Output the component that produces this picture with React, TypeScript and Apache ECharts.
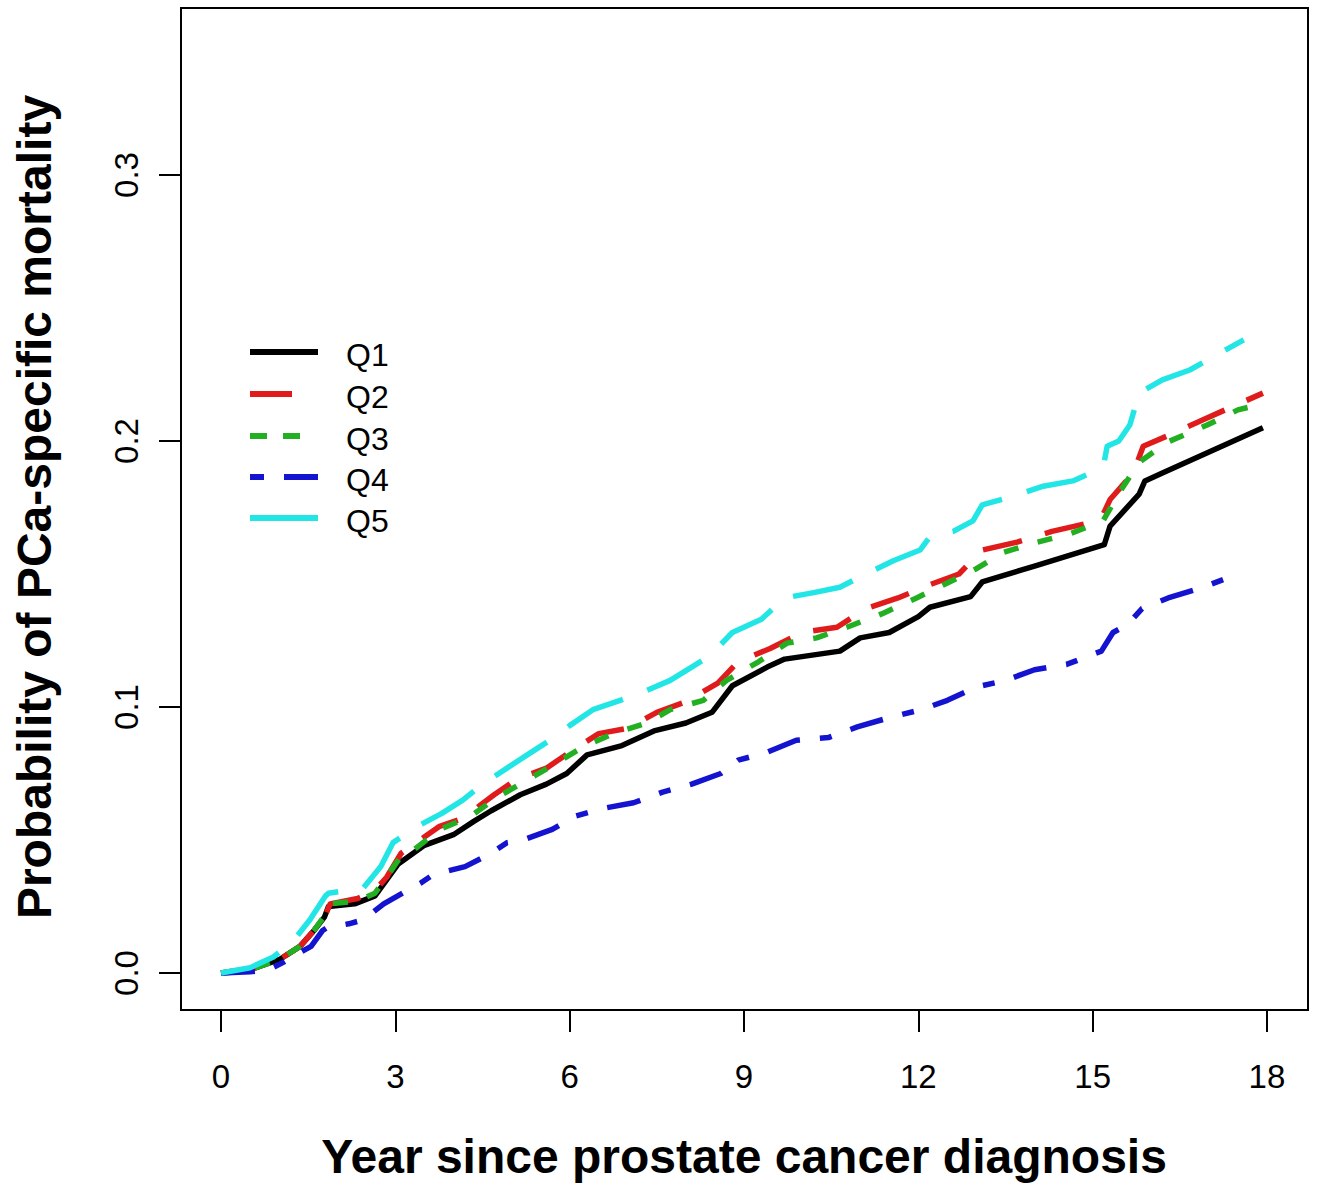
import React, { useEffect, useRef } from "react";
import * as echarts from "echarts";

const seriesNames = ["Q1", "Q2", "Q3", "Q4", "Q5"];
const seriesColors = ["#000000", "#e01b1b", "#22b022", "#1414d0", "#22e6e6"];

const q1: number[][] = [
  [0, 0], [0.3, 0.0005], [0.6, 0.002], [1.0, 0.005], [1.36, 0.01], [1.6, 0.016], [1.78, 0.021], [1.85, 0.025],
  [2.3, 0.026], [2.65, 0.029], [2.85, 0.035], [3.05, 0.041], [3.5, 0.048], [4.0, 0.052], [4.35, 0.057],
  [4.65, 0.061], [5.15, 0.067], [5.6, 0.071], [5.95, 0.075], [6.3, 0.082], [6.9, 0.0855], [7.45, 0.091],
  [8.0, 0.094], [8.45, 0.098], [8.8, 0.108], [9.4, 0.115], [9.7, 0.118], [10.65, 0.121], [11.0, 0.126],
  [11.5, 0.128], [12.0, 0.134], [12.2, 0.1375], [12.9, 0.1415], [13.1, 0.147], [14.0, 0.153], [15.2, 0.161],
  [15.3, 0.168], [15.8, 0.18], [15.9, 0.185], [16.2, 0.188], [17.93, 0.205],
];
const q2: number[][] = [
  [0, 0], [0.6, 0.002], [1.0, 0.005], [1.36, 0.01], [1.6, 0.016], [1.8, 0.022], [1.88, 0.026], [2.35, 0.028],
  [2.65, 0.031], [2.85, 0.036], [3.1, 0.045], [3.75, 0.055], [4.15, 0.058], [4.7, 0.067], [5.1, 0.073],
  [5.6, 0.077], [6.0, 0.083], [6.5, 0.09], [7.0, 0.092], [7.5, 0.098], [8.0, 0.102], [8.55, 0.109],
  [8.9, 0.117], [9.45, 0.122], [10.0, 0.128], [10.6, 0.13], [11.1, 0.137], [11.65, 0.141], [12.2, 0.146],
  [12.7, 0.15], [13.1, 0.159], [13.7, 0.162], [14.3, 0.166], [14.9, 0.169], [15.15, 0.171], [15.3, 0.178],
  [15.7, 0.188], [15.87, 0.198], [16.4, 0.203], [16.9, 0.208], [17.93, 0.218],
];
const q3: number[][] = [
  [0, 0], [0.6, 0.002], [1.0, 0.005], [1.36, 0.01], [1.6, 0.016], [1.8, 0.022], [1.88, 0.026], [2.35, 0.027],
  [2.65, 0.03], [2.85, 0.036], [3.1, 0.044], [3.3, 0.046], [3.77, 0.054], [4.28, 0.0587], [4.75, 0.066],
  [5.27, 0.0725], [5.78, 0.079], [6.23, 0.085], [6.75, 0.09], [7.33, 0.094], [7.73, 0.099], [8.3, 0.1025],
  [8.7, 0.11], [9.25, 0.117], [9.74, 0.124], [10.25, 0.126], [10.77, 0.13], [11.37, 0.135], [11.97, 0.141],
  [12.5, 0.1466], [13.0, 0.152], [13.45, 0.158], [14.0, 0.1617], [14.6, 0.165], [15.18, 0.17], [15.47, 0.181],
  [15.8, 0.192], [16.3, 0.1997], [16.97, 0.206], [17.5, 0.2117], [17.93, 0.214],
];
const q4: number[][] = [
  [0, 0], [0.5, 0.0005], [0.8, 0.001], [1.07, 0.004], [1.3, 0.007], [1.55, 0.01], [1.75, 0.016], [1.82, 0.017],
  [2.2, 0.0185], [2.45, 0.02], [2.8, 0.026], [3.2, 0.031], [3.45, 0.034], [3.65, 0.037], [4.2, 0.04],
  [4.65, 0.045], [4.92, 0.049], [5.2, 0.05], [5.7, 0.054], [6.1, 0.059], [6.6, 0.062], [7.1, 0.064],
  [7.6, 0.068], [8.1, 0.071], [8.6, 0.075], [8.9, 0.08], [9.4, 0.083], [9.9, 0.0875], [10.45, 0.0885],
  [10.95, 0.0925], [11.5, 0.096], [12.05, 0.099], [12.5, 0.1025], [13.0, 0.1075], [13.5, 0.11], [14.0, 0.114],
  [14.55, 0.116], [15.15, 0.121], [15.35, 0.128], [15.6, 0.131], [15.85, 0.137], [16.3, 0.141], [16.9, 0.145],
  [17.5, 0.15],
];
const q5: number[][] = [
  [0, 0], [0.5, 0.002], [0.9, 0.006], [1.24, 0.012], [1.53, 0.02], [1.8, 0.029], [1.85, 0.03], [2.45, 0.032],
  [2.75, 0.04], [2.96, 0.049], [3.37, 0.055], [3.8, 0.06], [4.16, 0.065], [4.5, 0.071], [5.27, 0.082],
  [5.66, 0.0875], [6.0, 0.093], [6.4, 0.099], [6.87, 0.1025], [7.3, 0.106], [7.73, 0.11], [8.1, 0.115],
  [8.4, 0.119], [8.8, 0.128], [9.3, 0.133], [9.7, 0.141], [10.2, 0.143], [10.65, 0.145], [11.1, 0.15],
  [11.57, 0.155], [12.03, 0.159], [12.2, 0.164], [12.6, 0.166], [12.94, 0.17], [13.1, 0.176], [13.6, 0.179],
  [14.15, 0.183], [14.66, 0.185], [15.18, 0.19], [15.25, 0.198], [15.45, 0.2], [15.64, 0.206], [15.8, 0.218],
  [16.2, 0.223], [16.67, 0.2267], [17.6, 0.238],
];
const seriesData = [q1, q2, q3, q4, q5];

const xTicks = [0, 3, 6, 9, 12, 15, 18];
const yTicks = [0, 0.1, 0.2, 0.3];
const xTitle = "Year since prostate cancer diagnosis";
const yTitle = "Probability of PCa-specific mortality";

const FONT = "'Liberation Sans', Arial, sans-serif";
const dashes: (string | number[])[] = ["solid", [40, 24], [15, 20], [34, 20, 12, 20], [62, 26]];
const legendDashes: (number[] | null)[] = [null, [42, 60], [17, 16, 17, 60], [14, 20, 34, 20], null];

export default function App() {
  const ref = useRef<HTMLDivElement>(null);
  useEffect(() => {
    if (!ref.current) return;
    const chart = echarts.init(ref.current, undefined, { renderer: "svg" });
    const legendY = [352, 394, 436, 477, 518];
    const legendGraphics: any[] = [];
    seriesNames.forEach((n, i) => {
      legendGraphics.push({
        type: "line",
        shape: { x1: 250, y1: legendY[i], x2: 318, y2: legendY[i] },
        style: { stroke: seriesColors[i], lineWidth: 6, lineDash: legendDashes[i] },
      });
      legendGraphics.push({
        type: "text",
        x: 346,
        y: legendY[i] + 3,
        style: { text: n, font: `32px ${FONT}`, fill: "#000", textAlign: "left", textVerticalAlign: "middle" },
      });
    });
    chart.setOption({
      animation: false,
      backgroundColor: "#fff",
      grid: {
        left: 181, top: 8, width: 1127, height: 1002,
        show: true, borderColor: "#000", borderWidth: 2, backgroundColor: "transparent",
      },
      xAxis: {
        type: "value",
        min: -0.6883,
        max: 18.706,
        splitLine: { show: false },
        axisLine: { show: false, onZero: false },
        axisTick: { show: true, customValues: xTicks, length: 22, lineStyle: { color: "#000", width: 2 } },
        axisLabel: {
          customValues: xTicks, margin: 50, fontSize: 33, fontFamily: FONT, color: "#000",
          formatter: (v: number) => String(v),
        },
      },
      yAxis: {
        type: "value",
        min: -0.01391,
        max: 0.36278,
        splitLine: { show: false },
        axisLine: { show: false, onZero: false },
        axisTick: { show: true, customValues: yTicks, length: 22, lineStyle: { color: "#000", width: 2 } },
        axisLabel: {
          customValues: yTicks, margin: 38, rotate: 90, fontSize: 33, fontFamily: FONT, color: "#000",
          formatter: (v: number) => v.toFixed(1),
        },
      },
      graphic: [
        {
          type: "text", x: 744, y: 1156,
          style: { text: xTitle, font: `bold 48px ${FONT}`, fill: "#000", textAlign: "center", textVerticalAlign: "middle" },
        },
        {
          type: "text", x: 34, y: 507, rotation: Math.PI / 2,
          style: { text: yTitle, font: `bold 48px ${FONT}`, fill: "#000", textAlign: "center", textVerticalAlign: "middle" },
        },
        ...legendGraphics,
      ],
      series: seriesData.map((d, i) => ({
        name: seriesNames[i],
        type: "line",
        data: d,
        showSymbol: false,
        symbol: "none",
        lineStyle: { color: seriesColors[i], width: 5.5, type: dashes[i] as any, cap: "butt", join: "round" },
        z: 2 + i,
      })),
    });
    return () => chart.dispose();
  }, []);
  return <div ref={ref} style={{ position: "absolute", left: 0, top: 0, width: 1318, height: 1189 }} />;
}
